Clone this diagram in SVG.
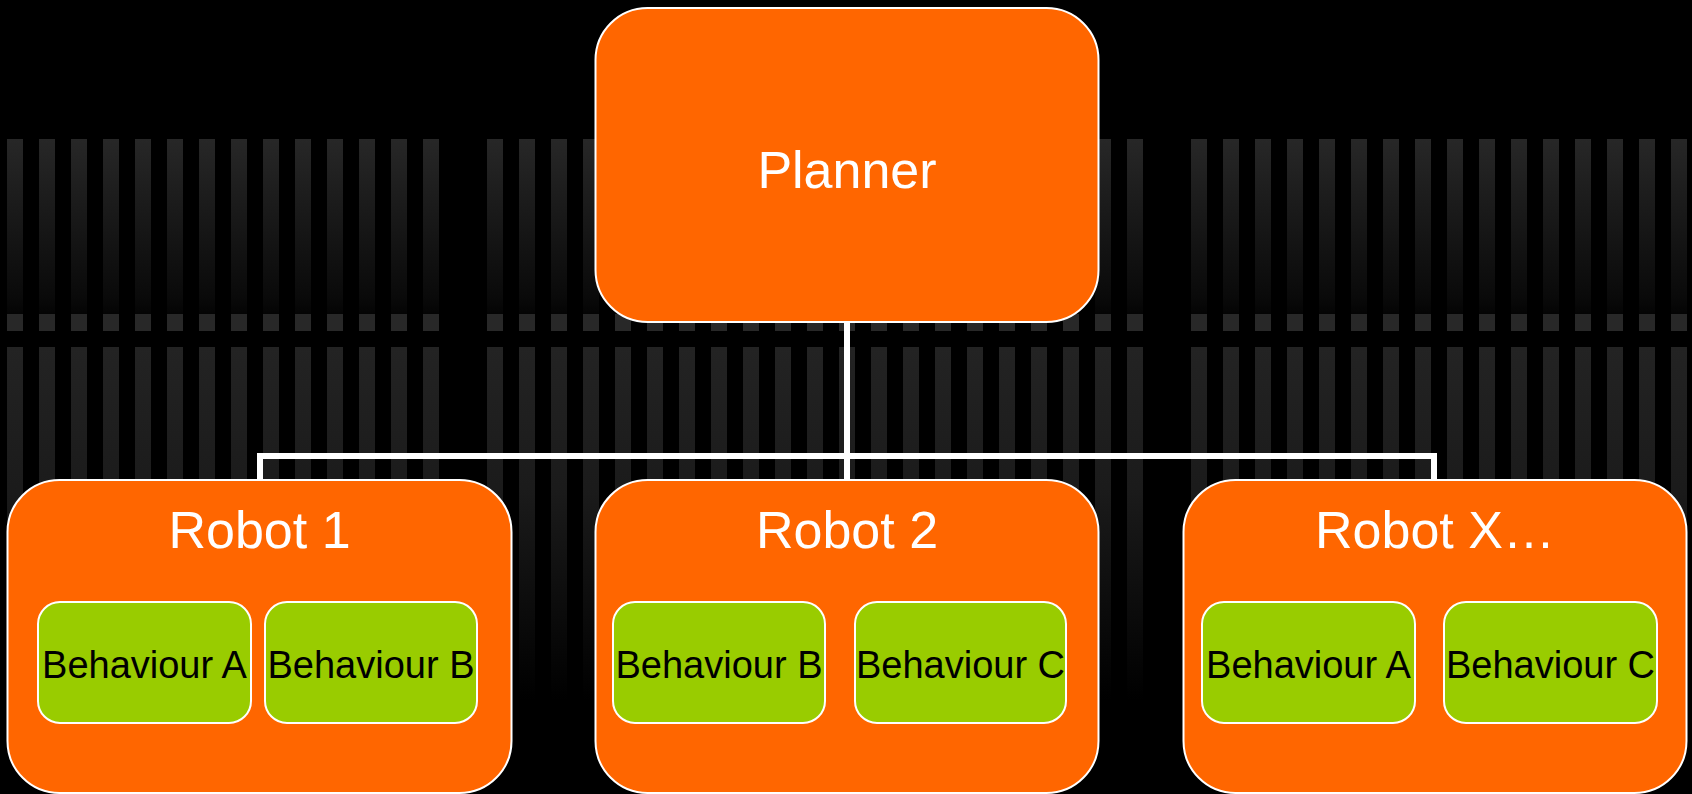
<svg xmlns="http://www.w3.org/2000/svg" width="1692" height="794" viewBox="0 0 1692 794">
<style>
.robot{fill:#FF6600;stroke:#FFFFFF;stroke-width:2}
.beh{fill:#99CC00;stroke:#FFFFFF;stroke-width:2}
.t1{font-family:"Liberation Sans",Arial,sans-serif;font-size:52px;fill:#FFFFFF;text-anchor:middle}
.t2{font-family:"Liberation Sans",Arial,sans-serif;font-size:38px;fill:#000000;text-anchor:middle}
.conn{fill:none;stroke:#FFFFFF;stroke-width:6}
</style>
<defs>
<linearGradient id="gTop" x1="0" y1="0" x2="0" y2="1">
<stop offset="0" stop-color="#272727"/>
<stop offset="0.9" stop-color="#0a0a0a"/>
<stop offset="1" stop-color="#040404"/>
</linearGradient>
<linearGradient id="gLow" x1="0" y1="0" x2="0" y2="1">
<stop offset="0" stop-color="#232323"/>
<stop offset="0.4" stop-color="#1b1b1b"/>
<stop offset="1" stop-color="#000000"/>
</linearGradient>
<pattern id="stripes" patternUnits="userSpaceOnUse" x="7" y="0" width="32" height="794">
<rect x="0" y="139" width="16" height="175" fill="url(#gTop)"/>
<rect x="0" y="314" width="16" height="17" fill="#282828"/>
<rect x="0" y="347" width="16" height="353" fill="url(#gLow)"/>
</pattern>
</defs>
<rect x="0" y="0" width="1692" height="794" fill="#000000"/>
<g id="background">
<rect x="7" y="0" width="432" height="794" fill="url(#stripes)"/>
<rect x="487" y="0" width="656" height="794" fill="url(#stripes)"/>
<rect x="1191" y="0" width="501" height="794" fill="url(#stripes)"/>
</g>
<g id="connectors">
<path class="conn" d="M847,322 V480"/>
<path class="conn" d="M260,480 V456 H1434 V480"/>
</g>
<g id="planner">
<rect class="robot" x="595.5" y="8" width="503" height="314" rx="52" ry="52"/>
<text class="t1" x="847" y="188">Planner</text>
</g>
<g id="robot1">
<rect class="robot" x="7.5" y="480" width="504" height="313" rx="52" ry="52"/>
<text class="t1" x="259.5" y="548">Robot 1</text>
<g id="robot1-behA">
<rect class="beh" x="38" y="602" width="213" height="121" rx="22" ry="22"/>
<text class="t2" x="144.5" y="678">Behaviour A</text>
</g>
<g id="robot1-behB">
<rect class="beh" x="265" y="602" width="212" height="121" rx="22" ry="22"/>
<text class="t2" x="371" y="678">Behaviour B</text>
</g>
</g>
<g id="robot2">
<rect class="robot" x="595.5" y="480" width="503" height="313" rx="52" ry="52"/>
<text class="t1" x="847" y="548">Robot 2</text>
<g id="robot2-behB">
<rect class="beh" x="613" y="602" width="212" height="121" rx="22" ry="22"/>
<text class="t2" x="719" y="678">Behaviour B</text>
</g>
<g id="robot2-behC">
<rect class="beh" x="855" y="602" width="211" height="121" rx="22" ry="22"/>
<text class="t2" x="960.5" y="678">Behaviour C</text>
</g>
</g>
<g id="robotX">
<rect class="robot" x="1183.5" y="480" width="503" height="313" rx="52" ry="52"/>
<text class="t1" x="1435" y="548">Robot X…</text>
<g id="robotX-behA">
<rect class="beh" x="1202" y="602" width="213" height="121" rx="22" ry="22"/>
<text class="t2" x="1308.5" y="678">Behaviour A</text>
</g>
<g id="robotX-behC">
<rect class="beh" x="1444" y="602" width="213" height="121" rx="22" ry="22"/>
<text class="t2" x="1550.5" y="678">Behaviour C</text>
</g>
</g>
</svg>
